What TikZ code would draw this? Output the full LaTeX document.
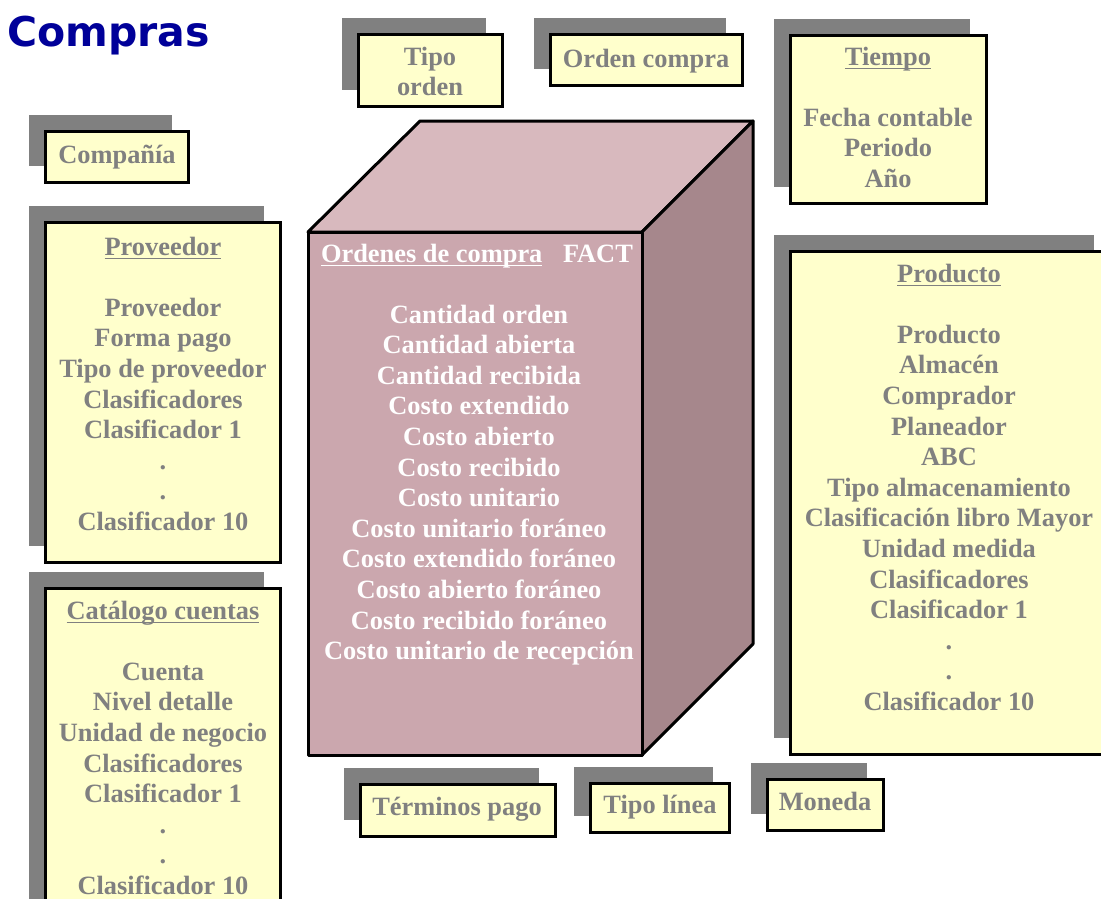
\documentclass[tikz,border=0pt]{standalone}
\usepackage{fontspec}
\setmainfont{Liberation Serif}
\newfontfamily\headfont{DejaVu Sans}
\usetikzlibrary{shadows}

\definecolor{shgray}{HTML}{808080}
\definecolor{txtgray}{HTML}{808080}
\definecolor{cardfill}{HTML}{FFFFCC}
\definecolor{headblue}{HTML}{000099}
\definecolor{cubetopc}{HTML}{D8B9BE}
\definecolor{cubefrontc}{HTML}{CBA7AE}
\definecolor{cubesidec}{HTML}{A6878C}

\tikzset{
  dimbox/.style={draw=black, line width=3pt, fill=cardfill, anchor=north west,
    inner sep=0pt, outer sep=0pt,
    general shadow={fill=shgray, shadow xshift=-16.5pt, shadow yshift=16.5pt}},
  lbl/.style={anchor=base, inner sep=0pt, outer sep=0pt,
    font=\fontsize{26.4}{30.6}\selectfont\bfseries, text=txtgray},
  factlbl/.style={lbl, text=white},
  ulgray/.style={line width=1.8pt, draw=txtgray},
  ulwhite/.style={line width=1.8pt, draw=white},
  cubeedge/.style={draw=black, line width=3pt, line join=round}
}

% one text node per line, 30.6pt apart
\newcommand{\stackedlines}[5]{%
  \foreach \ln [count=\k from 0] in {#5} {
    \node[#1] (#2-\k) at (#3, {#4 + 30.6*\k}) {\ln};
  }}

\begin{document}
\begin{tikzpicture}[x=1pt, y=-1pt]
\useasboundingbox (0,0) rectangle (1101,898);
\begin{scope}
\clip (0,0) rectangle (1101,898);

% title
\node[anchor=base west, inner sep=0pt, text=headblue,
      font=\headfont\fontsize{41}{44}\selectfont\bfseries] (title) at (7,46) {Compras};

% dimension cards
\node[dimbox, minimum width=144, minimum height=72]  (tipoord) at (358,34)  {};
\node[dimbox, minimum width=192, minimum height=51]  (ordcomp) at (550,34)  {};
\node[dimbox, minimum width=196, minimum height=168] (tiempo)  at (790,35)  {};
\node[dimbox, minimum width=143, minimum height=51]  (comp)    at (45,131)  {};
\node[dimbox, minimum width=235, minimum height=340] (prov)    at (45,222)  {};
\node[dimbox, minimum width=235, minimum height=330] (cat)     at (45,588)  {};
\node[dimbox, minimum width=320, minimum height=503] (prod)    at (790,251) {};
\node[dimbox, minimum width=195, minimum height=52]  (term)    at (360,784) {};
\node[dimbox, minimum width=139, minimum height=49]  (tipolin) at (590,783) {};
\node[dimbox, minimum width=116, minimum height=51]  (moneda)  at (767,779) {};

% fact cube
\coordinate (ftl) at (308,232);
\coordinate (ftr) at (642,232);
\coordinate (fbr) at (642,755);
\coordinate (fbl) at (308,755);
\coordinate (btl) at (420,121);
\coordinate (btr) at (753,121);
\coordinate (bbr) at (753,644);
\path[cubeedge, fill=cubetopc]   (ftl) -- (btl) -- (btr) -- (ftr) -- cycle;
\path[cubeedge, fill=cubesidec]  (ftr) -- (btr) -- (bbr) -- (fbr) -- cycle;
\path[cubeedge, fill=cubefrontc] (ftl) -- (ftr) -- (fbr) -- (fbl) -- cycle;

% fact text
\node[factlbl, anchor=base west] (factT) at (321,262) {Ordenes de compra};
\draw[ulwhite] ([yshift=-3.5pt]factT.base west) -- ([yshift=-3.5pt]factT.base east);
\node[factlbl, anchor=base west] (factK) at (563,262) {FACT};
\stackedlines{factlbl}{fact}{479}{323}{Cantidad orden,Cantidad abierta,Cantidad recibida,Costo extendido,Costo abierto,Costo recibido,Costo unitario,Costo unitario foráneo,Costo extendido foráneo,Costo abierto foráneo,Costo recibido foráneo,Costo unitario de recepción}

% single-line cards
\stackedlines{lbl}{tipoordL}{430}{65}{Tipo,orden}
\node[lbl] (ordcompL) at (646,67) {Orden compra};
\node[lbl] (compL) at (117,163) {Compañía};
\node[lbl] (termL) at (457,815) {Términos pago};
\node[lbl] (tipolinL) at (660,813) {Tipo línea};
\node[lbl] (monedaL) at (825,810) {Moneda};

% Tiempo
\node[lbl] (tiempoT) at (888,65) {Tiempo};
\draw[ulgray] ([yshift=-3.5pt]tiempoT.base west) -- ([yshift=-3.5pt]tiempoT.base east);
\stackedlines{lbl}{tiempoL}{888}{126.2}{Fecha contable,Periodo,Año}

% Proveedor
\node[lbl] (provT) at (163,255) {Proveedor};
\draw[ulgray] ([yshift=-3.5pt]provT.base west) -- ([yshift=-3.5pt]provT.base east);
\stackedlines{lbl}{provL}{163}{316.2}{Proveedor,Forma pago,Tipo de proveedor,Clasificadores,Clasificador 1,.,.,Clasificador 10}

% Catalogo cuentas
\node[lbl] (catT) at (163,619) {Catálogo cuentas};
\draw[ulgray] ([yshift=-3.5pt]catT.base west) -- ([yshift=-3.5pt]catT.base east);
\stackedlines{lbl}{catL}{163}{680.2}{Cuenta,Nivel detalle,Unidad de negocio,Clasificadores,Clasificador 1,.,.,Clasificador 10}

% Producto
\node[lbl] (prodT) at (949,282) {Producto};
\draw[ulgray] ([yshift=-3.5pt]prodT.base west) -- ([yshift=-3.5pt]prodT.base east);
\stackedlines{lbl}{prodL}{949}{343.2}{Producto,Almacén,Comprador,Planeador,ABC,Tipo almacenamiento,Clasificación libro Mayor,Unidad medida,Clasificadores,Clasificador 1,.,.,Clasificador 10}

\end{scope}
\end{tikzpicture}
\end{document}
